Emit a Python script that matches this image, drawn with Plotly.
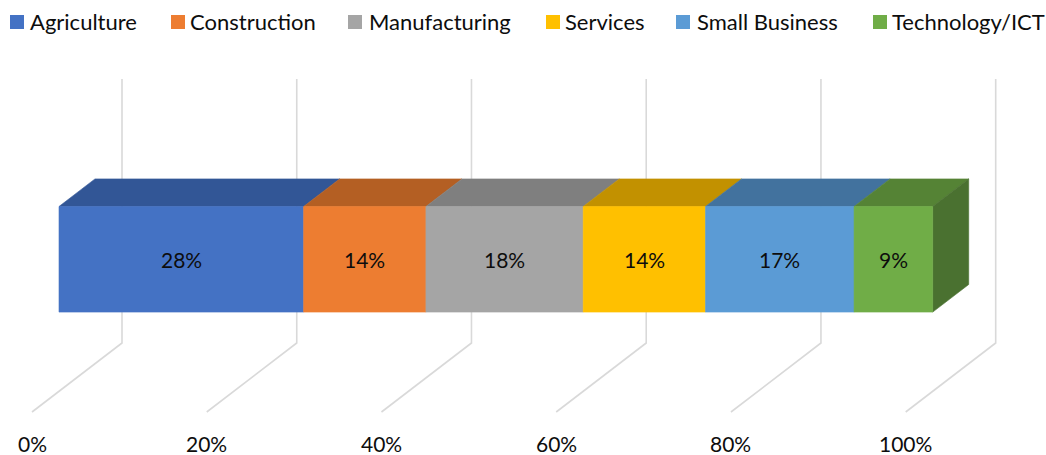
import plotly.graph_objects as go

# ---- data -------------------------------------------------------------
sectors = ["Agriculture", "Construction", "Manufacturing", "Services",
           "Small Business", "Technology/ICT"]
shares = [28, 14, 18, 14, 17, 9]          # percent of total
tick_values = [0, 20, 40, 60, 80, 100]
tick_labels = ["0%", "20%", "40%", "60%", "80%", "100%"]

front_colors = ["#4472C4", "#ED7D31", "#A5A5A5", "#FFC000", "#5B9BD5", "#70AD47"]
top_colors = ["#325696", "#B45F23", "#7F7F7F", "#C29100", "#42729E", "#558335"]
side_color = "#4A7130"

# ---- oblique 3-D projection ------------------------------------------
W, H = 1046, 455
PX_PER_PCT = 8.737          # horizontal pixels per percentage point
DEPTH_DX = 90 / PX_PER_PCT  # x shift (in %) for full depth
DEPTH_DY = 69               # y shift (in height units) for full depth
WALL_H = 264                # height of back wall
D_FRONT, D_BACK = 0.30, 0.70
H_BOT, H_TOP = 0.30 * WALL_H, 0.70 * WALL_H
X0_PX, Y0_PX = 32, 412      # screen position of origin (0%, depth 0, height 0)

def proj(p, d, h):
    return p + d * DEPTH_DX, h + d * DEPTH_DY

def poly(points):
    xs, ys = zip(*[proj(*pt) for pt in points])
    return list(xs) + [xs[0]], list(ys) + [ys[0]]

fig = go.Figure()

# gridlines: floor diagonal + back-wall vertical
for t in tick_values:
    xs, ys = zip(*[proj(t, 0, 0), proj(t, 1, 0), proj(t, 1, WALL_H)])
    fig.add_trace(go.Scatter(x=list(xs), y=list(ys), mode="lines",
                             line=dict(color="#D9D9D9", width=1.6),
                             hoverinfo="skip", showlegend=False))

# cumulative segment bounds
starts, ends = [], []
acc = 0
for v in shares:
    starts.append(acc)
    acc += v
    ends.append(acc)

def face(points, color):
    xs, ys = poly(points)
    fig.add_trace(go.Scatter(x=xs, y=ys, mode="lines", fill="toself",
                             fillcolor=color, line=dict(color=color, width=0.6),
                             hoverinfo="skip", showlegend=False))

# top faces
for a, b, c in zip(starts, ends, top_colors):
    face([(a, D_FRONT, H_TOP), (b, D_FRONT, H_TOP),
          (b, D_BACK, H_TOP), (a, D_BACK, H_TOP)], c)

# right side of the last segment
b = ends[-1]
face([(b, D_FRONT, H_BOT), (b, D_BACK, H_BOT),
      (b, D_BACK, H_TOP), (b, D_FRONT, H_TOP)], side_color)

# front faces
for a, b, c in zip(starts, ends, front_colors):
    face([(a, D_FRONT, H_BOT), (b, D_FRONT, H_BOT),
          (b, D_FRONT, H_TOP), (a, D_FRONT, H_TOP)], c)

FONT = "Lato"
annotations = []

# value labels on front faces
for a, b, v in zip(starts, ends, shares):
    x, y = proj((a + b) / 2, D_FRONT, (H_BOT + H_TOP) / 2)
    annotations.append(dict(x=x, y=y, text=f"{v}%", showarrow=False,
                            font=dict(family=FONT, size=21, color="#0D0D0D")))

# axis tick labels below floor front edge
for t, lab in zip(tick_values, tick_labels):
    x, _ = proj(t, 0, 0)
    annotations.append(dict(x=x, y=-31, text=lab, showarrow=False,
                            font=dict(family=FONT, size=21, color="#0D0D0D")))

# legend along the top
legend_square_px = [10, 171, 348, 546, 676, 873]
legend_text_px = [28, 188, 367, 563, 695, 890]
shapes = []
for sx, tx, name, col in zip(legend_square_px, legend_text_px, sectors, front_colors):
    shapes.append(dict(type="rect", xref="paper", yref="paper",
                       x0=sx / W, x1=(sx + 14) / W,
                       y0=1 - 29 / H, y1=1 - 15 / H,
                       fillcolor=col, line=dict(width=0)))
    annotations.append(dict(xref="paper", yref="paper", x=tx / W, y=1 - 21.5 / H,
                            xanchor="left", yanchor="middle", text=name,
                            showarrow=False,
                            font=dict(family=FONT, size=22, color="#0D0D0D")))

x_lo = -X0_PX / PX_PER_PCT
x_hi = (W - X0_PX) / PX_PER_PCT
fig.update_layout(
    width=W, height=H,
    margin=dict(l=0, r=0, t=0, b=0),
    paper_bgcolor="white", plot_bgcolor="white",
    xaxis=dict(range=[x_lo, x_hi], visible=False, fixedrange=True),
    yaxis=dict(range=[Y0_PX - H, Y0_PX], visible=False, fixedrange=True),
    shapes=shapes, annotations=annotations, showlegend=False,
)

fig.write_html("out.html")
